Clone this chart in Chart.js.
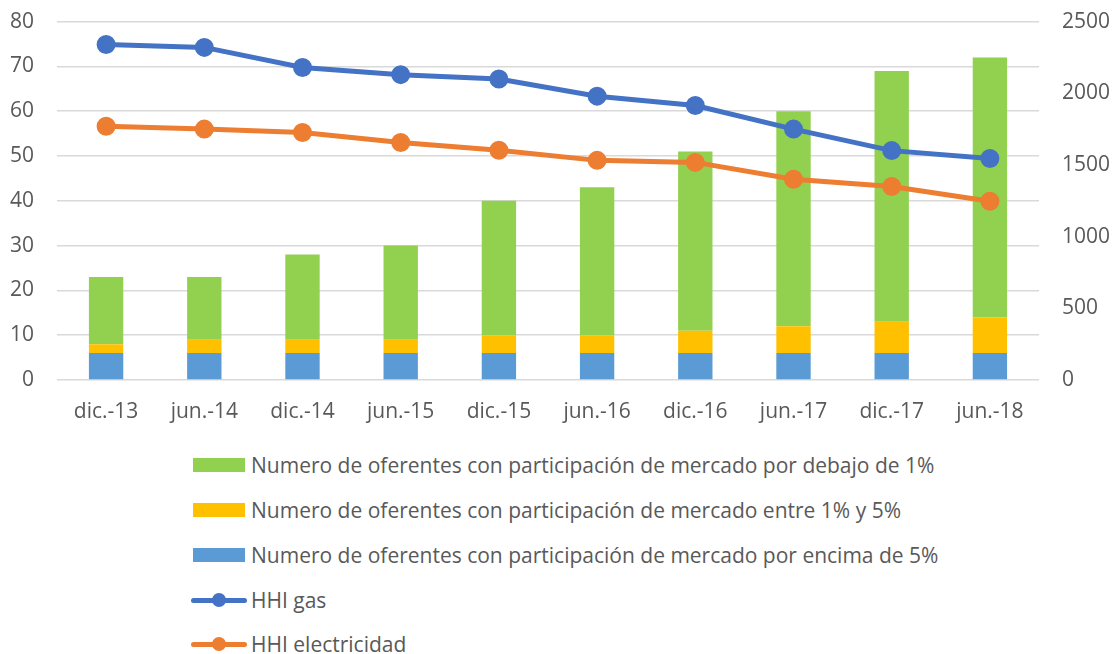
<!DOCTYPE html>
<html>
<head>
<meta charset="utf-8">
<script src="https://cdn.jsdelivr.net/npm/chart.js@4/dist/chart.umd.min.js"></script>
<style>
  html, body { margin: 0; padding: 0; background: #fff; }
  #wrap { position: relative; width: 1116px; height: 654px; font-family: "Open Sans", sans-serif; overflow: hidden; }
  #c { position: absolute; left: 0; top: -14px; }
  #legend { position: absolute; left: 191px; top: 443px; }
  .item { height: 44.75px; display: flex; align-items: center; color: #595959; font-size: 21px; white-space: nowrap; }
  .sw { width: 52px; height: 14px; margin-left: 2px; margin-right: 6px; }
  .ln { position: relative; width: 56px; height: 14px; margin-right: 4px; }
  .ln i { position: absolute; left: 0; right: 0; top: 5px; height: 5px; border-radius: 3px; }
  .ln b { position: absolute; left: 21px; top: 0; width: 14px; height: 14px; border-radius: 50%; }
</style>
</head>
<body>
<div id="wrap">
  <canvas id="c" width="1116" height="454"></canvas>
  <div id="legend"></div>
</div>
<script>
'use strict';
const labels = ['dic.-13','jun.-14','dic.-14','jun.-15','dic.-15','jun.-16','dic.-16','jun.-17','dic.-17','jun.-18'];
const over5 = [6,6,6,6,6,6,6,6,6,6];
const between1and5 = [2,3,3,3,4,4,5,6,7,8];
const under1 = [15,14,19,21,30,33,40,48,56,58];
const hhiGas = [2340,2320,2180,2130,2100,1980,1915,1750,1600,1545];
const hhiElec = [1770,1750,1727,1657,1602,1532,1518,1400,1350,1247];
const leftTicks = [0,10,20,30,40,50,60,70,80];
const rightTicks = [0,500,1000,1500,2000,2500];

const GREEN = '#92d050', YELLOW = '#ffc000', BLUE = '#5b9bd5', GAS = '#4472c4', ELEC = '#ed7d31';
const FONT = { family: '"Open Sans", sans-serif', size: 21 };
const TXT = '#595959';

const names = {
  under1: 'Numero de oferentes con participación de mercado por debajo de 1%',
  mid: 'Numero de oferentes con participación de mercado entre 1% y 5%',
  over5: 'Numero de oferentes con participación de mercado por encima de 5%',
  gas: 'HHI gas',
  elec: 'HHI electricidad'
};

const barOpts = { type: 'bar', yAxisID: 'y', stack: 's', order: 2, categoryPercentage: 0.7, barPercentage: 0.5, borderWidth: 0 };
const lineOpts = { type: 'line', yAxisID: 'y1', order: 0, borderWidth: 5, pointRadius: 7, pointHoverRadius: 7, tension: 0 };

new Chart(document.getElementById('c'), {
  data: {
    labels,
    datasets: [
      { ...barOpts, label: names.over5, data: over5, backgroundColor: BLUE },
      { ...barOpts, label: names.mid, data: between1and5, backgroundColor: YELLOW },
      { ...barOpts, label: names.under1, data: under1, backgroundColor: GREEN },
      { ...lineOpts, label: names.gas, data: hhiGas, borderColor: GAS, backgroundColor: GAS },
      { ...lineOpts, label: names.elec, data: hhiElec, borderColor: ELEC, backgroundColor: ELEC }
    ]
  },
  options: {
    responsive: false,
    animation: false,
    layout: { padding: 0 },
    plugins: { legend: { display: false }, tooltip: { enabled: false } },
    scales: {
      x: {
        stacked: true,
        afterFit: s => { s.height = 60; },
        grid: { display: false },
        border: { display: false },
        ticks: { color: TXT, font: FONT, padding: 11, maxRotation: 0 }
      },
      y: {
        position: 'left', stacked: true, min: 0, max: 80,
        afterBuildTicks: s => { s.ticks = leftTicks.map(v => ({ value: v })); },
        afterFit: s => { s.width = 57; },
        grid: { color: '#d9d9d9', lineWidth: 1.5, drawTicks: false },
        border: { display: false },
        ticks: { color: TXT, font: FONT, padding: 23 }
      },
      y1: {
        position: 'right', min: 0, max: 2500,
        afterBuildTicks: s => { s.ticks = rightTicks.map(v => ({ value: v })); },
        afterFit: s => { s.width = 77; },
        grid: { display: false },
        border: { display: false },
        ticks: { color: TXT, font: FONT, padding: 15, callback: v => String(v) }
      }
    }
  }
});

// legend in the original order: green, yellow, blue, then the two lines
const legendItems = [
  { text: names.under1, color: GREEN, kind: 'bar' },
  { text: names.mid, color: YELLOW, kind: 'bar' },
  { text: names.over5, color: BLUE, kind: 'bar' },
  { text: names.gas, color: GAS, kind: 'line' },
  { text: names.elec, color: ELEC, kind: 'line' }
];
const lg = document.getElementById('legend');
legendItems.forEach(it => {
  const d = document.createElement('div');
  d.className = 'item';
  const sw = it.kind === 'bar'
    ? `<span class="sw" style="background:${it.color}"></span>`
    : `<span class="ln"><i style="background:${it.color}"></i><b style="background:${it.color}"></b></span>`;
  d.innerHTML = sw + `<span>${it.text}</span>`;
  lg.appendChild(d);
});
</script>
</body>
</html>
